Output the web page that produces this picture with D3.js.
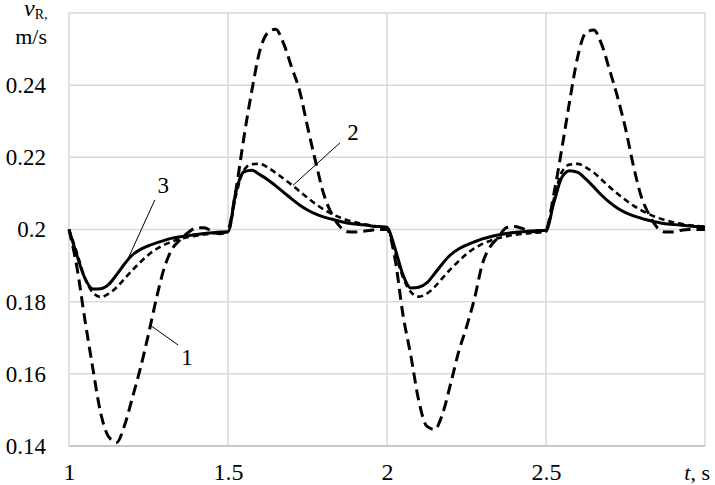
<!DOCTYPE html>
<html><head><meta charset="utf-8">
<script src="https://cdn.jsdelivr.net/npm/d3@7"></script>
<style>body{margin:0;background:#fff}svg{display:block}</style>
</head><body>
<script>
// ---- data ----
const xTicks = [1, 1.5, 2, 2.5];
const xTickLabels = ["1", "1.5", "2", "2.5"];
const yTicks = [0.14, 0.16, 0.18, 0.20, 0.22, 0.24];
const yTickLabels = ["0.14", "0.16", "0.18", "0.2", "0.22", "0.24"];
const time = [
 1.000,1.025,1.050,1.075,1.100,1.125,1.150,1.175,1.200,1.225,1.250,1.275,1.300,1.325,1.350,1.375,1.400,1.425,1.450,1.475,
 1.500,1.525,1.550,1.575,1.600,1.625,1.650,1.675,1.700,1.725,1.750,1.775,1.800,1.825,1.850,1.875,1.900,1.925,1.950,1.975,
 2.000,2.025,2.050,2.075,2.100,2.125,2.150,2.175,2.200,2.225,2.250,2.275,2.300,2.325,2.350,2.375,2.400,2.425,2.450,2.475,
 2.500,2.525,2.550,2.575,2.600,2.625,2.650,2.675,2.700,2.725,2.750,2.775,2.800,2.825,2.850,2.875,2.900,2.925,2.950,2.975,
 3.000];
const v1 = [
 0.2000,0.1895,0.1750,0.1615,0.1490,0.1425,0.1410,0.1458,0.1536,0.1617,0.1710,0.1810,0.1895,0.1947,0.1972,0.1992,0.2004,0.2005,0.1995,0.1988,
 0.2000,0.2110,0.2255,0.2385,0.2495,0.2545,0.2555,0.2515,0.2450,0.2385,0.2285,0.2190,0.2101,0.2045,0.2010,0.1994,0.1993,0.1995,0.1998,0.2000,
 0.2000,0.1920,0.1765,0.1650,0.1525,0.1455,0.1446,0.1490,0.1572,0.1660,0.1730,0.1808,0.1905,0.1953,0.1978,0.2005,0.2008,0.2003,0.1995,0.1993,
 0.2000,0.2100,0.2225,0.2359,0.2480,0.2545,0.2553,0.2513,0.2442,0.2367,0.2280,0.2176,0.2090,0.2040,0.2005,0.1993,0.1993,0.1998,0.2000,0.2000,
 0.2000];
const v2 = [
 0.2000,0.1935,0.1865,0.1825,0.1813,0.1822,0.1840,0.1864,0.1888,0.1910,0.1930,0.1946,0.1958,0.1967,0.1974,0.1979,0.1983,0.1986,0.1989,0.1991,
 0.1993,0.2095,0.2165,0.2181,0.2182,0.2172,0.2157,0.2141,0.2124,0.2106,0.2088,0.2071,0.2056,0.2044,0.2034,0.2026,0.2020,0.2015,0.2011,0.2008,
 0.2005,0.1938,0.1868,0.1827,0.1814,0.1822,0.1841,0.1866,0.1890,0.1912,0.1932,0.1948,0.1960,0.1969,0.1976,0.1981,0.1985,0.1988,0.1990,0.1992,
 0.1994,0.2085,0.2160,0.2180,0.2182,0.2172,0.2158,0.2138,0.2118,0.2099,0.2082,0.2066,0.2053,0.2042,0.2033,0.2026,0.2020,0.2016,0.2012,0.2010,
 0.2008];
const v3 = [
 0.2000,0.1928,0.1865,0.1835,0.1836,0.1848,0.1875,0.1905,0.1930,0.1945,0.1955,0.1963,0.1970,0.1976,0.1980,0.1983,0.1986,0.1989,0.1991,0.1993,
 0.1994,0.2105,0.2160,0.2164,0.2152,0.2138,0.2121,0.2103,0.2085,0.2068,0.2054,0.2043,0.2035,0.2029,0.2023,0.2018,0.2015,0.2013,0.2010,0.2008,
 0.2006,0.1948,0.1875,0.1838,0.1840,0.1852,0.1878,0.1906,0.1930,0.1946,0.1957,0.1966,0.1974,0.1980,0.1985,0.1989,0.1992,0.1994,0.1996,0.1997,
 0.1998,0.2075,0.2145,0.2163,0.2158,0.2140,0.2118,0.2095,0.2075,0.2059,0.2047,0.2038,0.2031,0.2025,0.2020,0.2016,0.2014,0.2012,0.2010,0.2008,
 0.2007];
const seriesNames = ["1", "2", "3"];

// ---- layout ----
const W = 715, H = 485;
const m = {left: 69, right: 10, top: 13, bottom: 39};
const FONT = '"Liberation Serif", "Times New Roman", serif';

const svg = d3.select("body").append("svg").attr("width", W).attr("height", H);
const x = d3.scaleLinear().domain([1, 3]).range([m.left, W - m.right]);
const y = d3.scaleLinear().domain([0.14, 0.26]).range([H - m.bottom, m.top]);

// grid
const grid = svg.append("g").attr("stroke", "#d9d9d9").attr("stroke-width", 1.5);
grid.selectAll(".h").data(d3.range(0.14, 0.2601, 0.02)).join("line")
  .attr("x1", x(1)).attr("x2", x(3)).attr("y1", d => y(d)).attr("y2", d => y(d));
grid.selectAll(".v").data(d3.range(1, 3.001, 0.5)).join("line")
  .attr("y1", y(0.14)).attr("y2", y(0.26)).attr("x1", d => x(d)).attr("x2", d => x(d));
svg.append("line").attr("x1", x(1)).attr("x2", x(3)).attr("y1", y(0.14)).attr("y2", y(0.14))
  .attr("stroke", "#c8c8c8").attr("stroke-width", 2);

// curves
const line = d3.line().x((d, i) => x(time[i])).y(d => y(d)).curve(d3.curveMonotoneX);
const styles = [
  {data: v1, dash: "11,6", w: 3},
  {data: v2, dash: "6,4", w: 2.6},
  {data: v3, dash: null, w: 3}
];
svg.append("g").selectAll("path").data(styles).join("path")
  .attr("d", s => line(s.data)).attr("fill", "none").attr("stroke", "#000")
  .attr("stroke-width", s => s.w).attr("stroke-dasharray", s => s.dash)
  .attr("stroke-linejoin", "round");

// axes (labels only)
const xAxis = d3.axisBottom(x).tickValues(xTicks).tickFormat((d, i) => xTickLabels[i]).tickSize(0).tickPadding(17);
const gx = svg.append("g").attr("transform", `translate(0,${y(0.14)})`).call(xAxis);
gx.attr("font-family", FONT).attr("font-size", 24);
gx.select(".domain").remove();
gx.selectAll("text").style("font-family", FONT).style("font-size", "24px").attr("fill", "#000");

const yAxis = d3.axisLeft(y).tickValues(yTicks).tickFormat((d, i) => yTickLabels[i]).tickSize(0).tickPadding(23);
const gy = svg.append("g").attr("transform", `translate(${x(1)},0)`).call(yAxis);
gy.attr("font-family", FONT).attr("font-size", 23);
gy.select(".domain").remove();
gy.selectAll("text").style("font-family", FONT).style("font-size", "23px").attr("fill", "#000");

// axis titles
const yt = svg.append("text").style("font-family", FONT).attr("fill", "#000");
yt.append("tspan").attr("x", 24).attr("y", 16).style("font-style", "italic").style("font-size", "24px").text("v");
yt.append("tspan").attr("dy", 3).style("font-size", "14px").text("R,");
svg.append("text").attr("x", 47).attr("y", 44).attr("text-anchor", "end").style("font-family", FONT)
  .style("font-size", "22px").text("m/s");
const xt = svg.append("text").attr("x", 710).attr("y", 480).attr("text-anchor", "end")
  .style("font-family", FONT).style("font-size", "22px");
xt.append("tspan").style("font-style", "italic").text("t");
xt.append("tspan").text(", s");

// annotations (leader lines, in data coordinates)
const notes = [
  {name: seriesNames[0], lx: 1.371, ly: 0.1647, ax: 1.343, ay: 0.1680, px: 1.255, py: 0.1735},
  {name: seriesNames[1], lx: 1.893, ly: 0.2270, ax: 1.852, ay: 0.2240, px: 1.704, py: 0.2122},
  {name: seriesNames[2], lx: 1.296, ly: 0.2123, ax: 1.270, ay: 0.2082, px: 1.182, py: 0.1912}
];
const ng = svg.append("g");
ng.selectAll("line").data(notes).join("line")
  .attr("x1", d => x(d.ax)).attr("y1", d => y(d.ay)).attr("x2", d => x(d.px)).attr("y2", d => y(d.py))
  .attr("stroke", "#000").attr("stroke-width", 1);
ng.selectAll("text").data(notes).join("text")
  .attr("x", d => x(d.lx)).attr("y", d => y(d.ly)).attr("dy", "0.35em").attr("text-anchor", "middle")
  .style("font-family", FONT).style("font-size", "23px").text(d => d.name);
</script>
</body></html>
